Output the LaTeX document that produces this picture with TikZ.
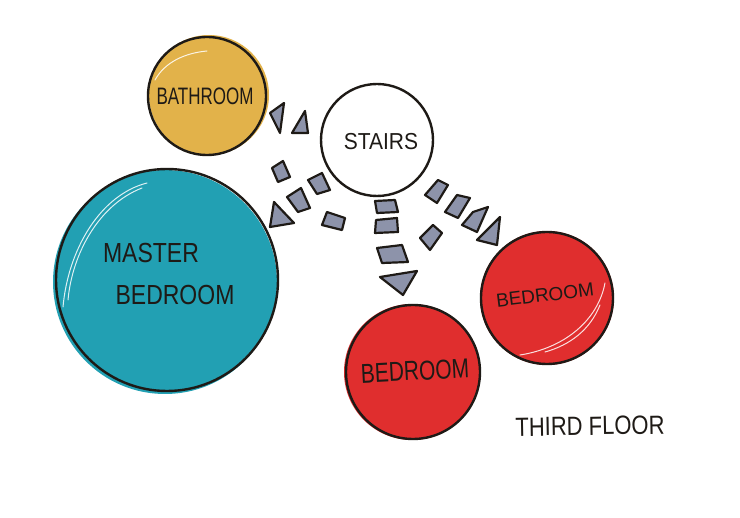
\documentclass[tikz,border=0pt]{standalone}
\usepackage{fontspec}
\setmainfont{Liberation Sans}
\definecolor{ochre}{HTML}{E2B24A}
\definecolor{tealw}{HTML}{22A0B3}
\definecolor{redw}{HTML}{E02E2E}
\definecolor{slate}{HTML}{8D93AA}
\definecolor{ink}{HTML}{1E1A16}
\tikzset{
  room/.style={circle, draw=ink, line width=2.4pt, inner sep=0pt},
  wash/.style={circle, inner sep=0pt, draw=none},
  lbl/.style={text=ink, inner sep=0pt},
  piece/.style={fill=slate, draw=ink, line width=2.2pt, line join=round},
  gleam/.style={draw=white, line width=1pt, opacity=0.85, line cap=round}
}
\newcommand{\fs}[1]{\fontsize{#1}{#1}\selectfont}
\begin{document}
\begin{tikzpicture}[x=1pt,y=-1pt]
\useasboundingbox (0,0) rectangle (740,518);
\fill[white] (0,0) rectangle (740,518);

% washes (marker fills)
\node[wash, fill=ochre, minimum size=120pt] (bathw) at (209,95) {};
\node[wash, fill=tealw, minimum size=224pt] (masterw) at (165,282) {};
\node[wash, fill=redw, minimum size=134pt] (bedrw) at (547,298) {};
\node[wash, fill=redw, minimum size=136pt] (bedbw) at (412,372) {};

% highlights
\draw[gleam] (155,80) .. controls (165,62) and (185,53) .. (207,51);
\draw[gleam] (147,183) .. controls (100,195) and (68,250) .. (63,307);
\draw[gleam] (142,188) .. controls (98,205) and (72,255) .. (68,300);
\draw[gleam] (605,283) .. controls (598,320) and (565,348) .. (520,355);
\draw[gleam] (600,305) .. controls (590,330) and (570,345) .. (545,352);

% room outlines
\node[room, minimum size=118pt] (bath) at (207,96) {};
\node[room, fill=white, minimum size=112pt] (stairs) at (377,140) {};
\node[room, minimum size=222pt] (master) at (167,280) {};
\node[room, minimum size=132pt] (bedr) at (547,298) {};
\node[room, minimum size=134pt] (bedb) at (413,372) {};

% labels
\node[lbl, font=\fs{17}] (tbath) at (205,96) {\scalebox{1}[1.4]{BATHROOM}};
\node[lbl, font=\fs{21}] (tstairs) at (381,142) {\scalebox{1}[1.1]{STAIRS}};
\node[lbl, font=\fs{23}] (tmaster1) at (151,253) {\scalebox{1}[1.2]{MASTER}};
\node[lbl, font=\fs{23}] (tmaster2) at (175,295) {\scalebox{1}[1.2]{BEDROOM}};
\node[lbl, font=\fs{19}, rotate=7] (tbedr) at (545,295) {BEDROOM};
\node[lbl, font=\fs{21}, rotate=3] (tbedb) at (415,371) {\scalebox{1}[1.3]{BEDROOM}};
\node[lbl, font=\fs{22}, rotate=1] (tfloor) at (590,426) {\scalebox{1}[1.2]{THIRD FLOOR}};

% arrow to bathroom
\draw[piece] (270,113) -- (284,103) -- (280,133) -- cycle;
\draw[piece] (305,111) -- (292,133) -- (308,133) -- cycle;

% arrow to master bedroom
\draw[piece] (272,168) -- (283,161) -- (290,177) -- (278,182) -- cycle;
\draw[piece] (308,180) -- (322,173) -- (330,190) -- (317,194) -- cycle;
\draw[piece] (287,197) -- (301,188) -- (310,208) -- (298,212) -- cycle;
\draw[piece] (274,202) -- (294,223) -- (270,227) -- cycle;
\draw[piece] (327,212) -- (345,218) -- (342,230) -- (322,225) -- cycle;

% arrow to lower bedroom
\draw[piece] (375,201) -- (395,200) -- (398,212) -- (377,213) -- cycle;
\draw[piece] (376,220) -- (397,218) -- (398,232) -- (375,233) -- cycle;
\draw[piece] (377,248) -- (402,245) -- (408,262) -- (382,263) -- cycle;
\draw[piece] (380,277) -- (417,271) -- (403,295) -- cycle;

% arrow to right bedroom
\draw[piece] (425,195) -- (438,180) -- (448,185) -- (437,203) -- cycle;
\draw[piece] (445,212) -- (457,195) -- (470,198) -- (458,218) -- cycle;
\draw[piece] (462,225) -- (473,212) -- (488,207) -- (477,232) -- cycle;
\draw[piece] (477,240) -- (500,217) -- (497,245) -- cycle;
\draw[piece] (420,238) -- (433,225) -- (442,233) -- (430,250) -- cycle;
\end{tikzpicture}
\end{document}
